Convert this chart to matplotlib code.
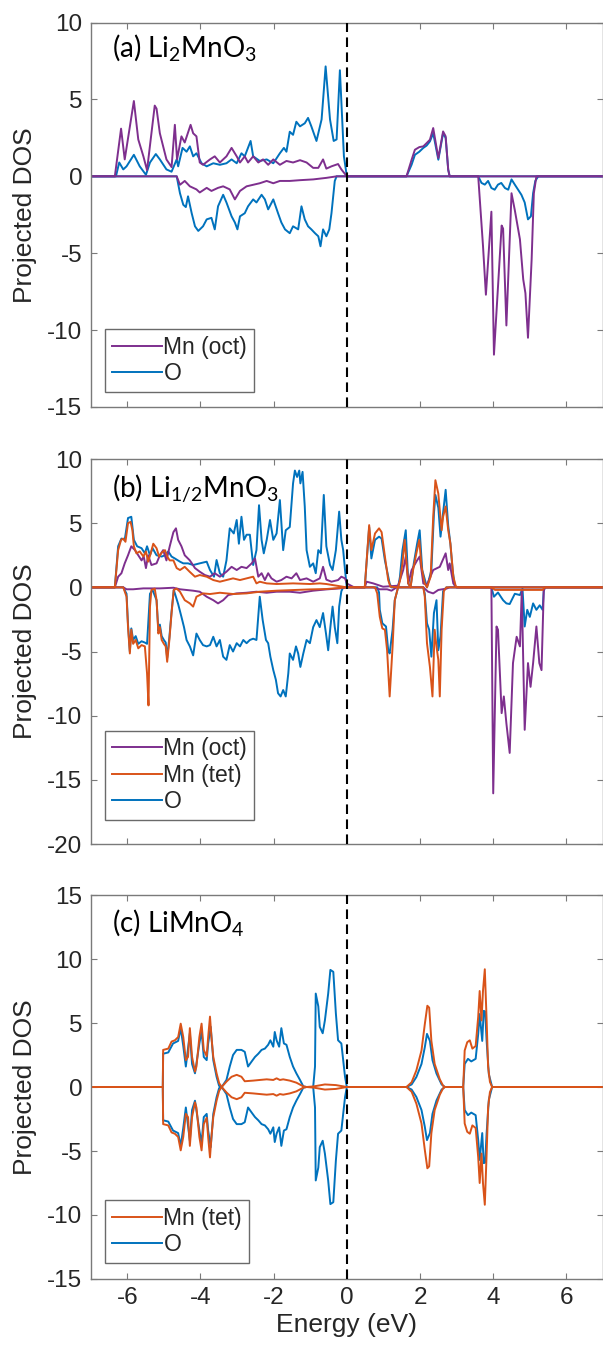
import numpy as np
import matplotlib
matplotlib.use("Agg")
import matplotlib.pyplot as plt
from matplotlib.lines import Line2D

# Projected density of states, (energy in eV, states/eV) pairs.
# Positive values: majority spin, negative values: minority spin.

# ---- (a) Li2MnO3 ----
A_MN_OCT_UP = [(-7.0, 0.0), (-6.34, 0.0), (-6.17, 3.1), (-6.07, 1.1), (-5.82, 4.9), (-5.70, 2.4), (-5.56, 1.3),
               (-5.46, 0.4), (-5.38, 2.0), (-5.25, 4.6), (-5.20, 4.4), (-5.11, 2.8), (-4.93, 1.1), (-4.79, 0.6),
               (-4.70, 3.35), (-4.64, 1.1), (-4.52, 2.6), (-4.43, 2.2), (-4.27, 3.35), (-4.20, 2.8), (-4.11, 2.6),
               (-4.02, 0.9), (-3.93, 0.75), (-3.74, 1.1), (-3.61, 1.3), (-3.47, 0.9), (-3.29, 1.3), (-3.15, 1.85),
               (-3.01, 1.3), (-2.92, 0.9), (-2.79, 1.3), (-2.70, 0.9), (-2.56, 1.3), (-2.42, 0.9), (-2.29, 1.1),
               (-2.15, 0.75), (-2.01, 1.1), (-1.83, 0.75), (-1.65, 1.0), (-1.47, 0.9), (-1.28, 1.05), (-1.10, 0.9),
               (-0.92, 0.55), (-0.78, 0.55), (-0.65, 1.1), (-0.56, 0.5), (-0.42, 0.65), (-0.24, 0.8), (-0.15, 0.45),
               (0.0, 0.0), (1.63, 0.0), (1.77, 1.08), (1.86, 1.73), (1.98, 1.9), (2.09, 1.95), (2.18, 2.16),
               (2.27, 2.38), (2.36, 3.14), (2.50, 1.19), (2.63, 2.92), (2.70, 2.6), (2.77, 0.43), (2.81, 0.0),
               (7.0, 0.0)]
A_MN_OCT_DN = [(-7.0, 0.0), (-4.65, 0.0), (-4.56, -0.55), (-4.43, -0.3), (-4.29, -0.65), (-4.11, -0.85),
               (-4.02, -1.05), (-3.83, -0.75), (-3.70, -0.95), (-3.52, -0.75), (-3.38, -0.65), (-3.20, -0.85),
               (-3.06, -1.5), (-2.92, -0.95), (-2.74, -0.65), (-2.56, -0.55), (-2.38, -0.45), (-2.19, -0.3),
               (-2.01, -0.45), (-1.83, -0.3), (-1.56, -0.3), (-1.28, -0.25), (-0.92, -0.2), (-0.56, -0.1),
               (-0.28, 0.0), (3.59, 0.0), (3.72, -4.5), (3.80, -7.7), (3.95, -2.3), (4.02, -11.6), (4.23, -3.2),
               (4.27, -3.4), (4.36, -9.7), (4.50, -1.1), (4.59, -2.2), (4.73, -4.1), (4.82, -6.7), (4.88, -7.6),
               (4.95, -10.5), (5.05, -5.4), (5.11, -1.1), (5.18, 0.0), (7.0, 0.0)]
A_O_UP = [(-7.0, 0.0), (-6.31, 0.0), (-6.22, 0.9), (-6.11, 0.45), (-6.02, 0.65), (-5.82, 1.4), (-5.66, 0.65),
          (-5.49, 0.1), (-5.38, 0.9), (-5.22, 1.45), (-5.11, 1.1), (-4.93, 0.45), (-4.79, 0.3), (-4.65, 1.1),
          (-4.61, 0.65), (-4.49, 1.85), (-4.38, 1.6), (-4.29, 1.95), (-4.20, 1.3), (-4.11, 1.5), (-3.97, 0.85),
          (-3.83, 0.65), (-3.65, 0.85), (-3.47, 0.75), (-3.29, 0.85), (-3.15, 1.1), (-3.01, 0.85), (-2.88, 1.5),
          (-2.79, 1.3), (-2.63, 2.3), (-2.56, 1.3), (-2.38, 1.0), (-2.19, 1.1), (-2.01, 0.85), (-1.83, 1.5),
          (-1.72, 1.85), (-1.65, 1.6), (-1.56, 2.9), (-1.47, 2.7), (-1.38, 3.55), (-1.28, 3.25), (-1.15, 3.45),
          (-1.06, 3.8), (-0.97, 3.25), (-0.83, 2.3), (-0.69, 3.7), (-0.58, 7.15), (-0.46, 3.7), (-0.36, 2.3),
          (-0.28, 2.4), (-0.19, 6.9), (-0.08, 1.3), (0.0, 0.0), (1.63, 0.0), (1.77, 0.76), (1.86, 1.4),
          (1.98, 1.6), (2.09, 1.85), (2.18, 2.0), (2.27, 2.27), (2.36, 2.8), (2.50, 1.08), (2.63, 2.8),
          (2.70, 2.5), (2.77, 0.43), (2.81, 0.0), (7.0, 0.0)]
A_O_DN = [(-7.0, 0.0), (-4.65, 0.0), (-4.56, -1.1), (-4.47, -1.85), (-4.40, -2.0), (-4.34, -1.3), (-4.24, -2.4),
          (-4.15, -3.25), (-4.06, -3.55), (-3.93, -3.25), (-3.83, -2.8), (-3.70, -2.7), (-3.61, -3.45),
          (-3.52, -1.95), (-3.38, -1.2), (-3.29, -1.7), (-3.15, -2.6), (-3.06, -3.0), (-2.99, -3.45),
          (-2.92, -2.6), (-2.79, -2.4), (-2.70, -1.95), (-2.56, -1.5), (-2.47, -1.7), (-2.33, -1.2),
          (-2.24, -1.5), (-2.15, -2.15), (-2.01, -1.5), (-1.88, -2.4), (-1.79, -3.0), (-1.69, -3.45),
          (-1.56, -3.7), (-1.47, -3.25), (-1.33, -3.45), (-1.24, -1.95), (-1.15, -2.8), (-1.06, -3.25),
          (-0.97, -3.45), (-0.87, -3.7), (-0.78, -3.9), (-0.72, -4.55), (-0.65, -3.45), (-0.56, -3.9),
          (-0.48, -3.45), (-0.42, -2.4), (-0.33, -0.3), (-0.28, 0.0), (3.59, 0.0), (3.68, -0.43), (3.77, -0.54),
          (3.86, -0.3), (3.95, -0.76), (4.04, -0.87), (4.13, -0.54), (4.22, -0.43), (4.32, -0.76), (4.41, -0.87),
          (4.50, -0.2), (4.59, -0.54), (4.68, -0.87), (4.77, -1.2), (4.86, -1.7), (4.95, -2.8), (5.03, -2.6),
          (5.09, -1.1), (5.15, -0.3), (5.23, 0.0), (7.0, 0.0)]

# ---- (b) Li1/2MnO3 ----
B_MN_OCT_UP = [(-7.0, 0.0), (-6.34, 0.0), (-6.25, 0.83), (-6.16, 1.1), (-6.07, 1.87), (-5.98, 2.5), (-5.89, 3.2),
               (-5.79, 2.9), (-5.70, 2.5), (-5.61, 2.1), (-5.55, 2.4), (-5.49, 1.5), (-5.43, 2.5), (-5.34, 1.74),
               (-5.20, 1.87), (-5.11, 2.5), (-5.02, 2.9), (-4.93, 2.1), (-4.84, 3.2), (-4.74, 4.3), (-4.67, 4.6),
               (-4.61, 3.7), (-4.52, 3.2), (-4.43, 2.5), (-4.29, 2.1), (-4.15, 1.5), (-4.02, 1.22), (-3.88, 0.96),
               (-3.74, 0.83), (-3.61, 1.1), (-3.47, 0.83), (-3.29, 1.22), (-3.15, 1.6), (-3.01, 1.35), (-2.88, 1.6),
               (-2.74, 1.5), (-2.60, 1.87), (-2.51, 2.25), (-2.42, 0.83), (-2.33, 1.1), (-2.24, 0.57), (-2.15, 1.1),
               (-2.06, 0.7), (-1.92, 0.44), (-1.79, 0.57), (-1.65, 0.83), (-1.51, 0.7), (-1.38, 1.1), (-1.28, 0.57),
               (-1.10, 0.7), (-0.92, 0.44), (-0.74, 0.7), (-0.65, 1.6), (-0.56, 0.6), (-0.42, 0.44), (-0.24, 0.57),
               (-0.15, 0.83), (-0.05, 0.7), (0.0, 0.3), (0.2, 0.0), (0.49, 0.0), (0.54, 0.44), (0.72, 0.31),
               (0.99, 0.05), (1.40, 0.13), (1.54, 1.35), (1.61, 2.4), (1.68, 0.3), (1.77, 1.35), (1.92, 2.1),
               (1.99, 2.4), (2.09, 0.3), (2.19, 0.2), (2.36, 1.35), (2.54, 1.6), (2.70, 2.65), (2.77, 1.35),
               (2.81, 1.87), (2.91, 0.3), (3.0, 0.0), (7.0, 0.0)]
B_MN_OCT_DN = [(-7.0, 0.0), (-6.11, 0.0), (-6.02, -0.15), (-5.84, -0.15), (-5.56, -0.08), (-5.11, -0.08),
               (-4.74, -0.03), (-4.56, -0.15), (-4.20, -0.26), (-4.02, -0.34), (-3.83, -0.73), (-3.65, -1.0),
               (-3.52, -1.25), (-3.38, -1.0), (-3.24, -0.6), (-3.01, -0.47), (-2.74, -0.42), (-2.47, -0.34),
               (-2.19, -0.42), (-1.92, -0.34), (-1.56, -0.34), (-1.28, -0.42), (-0.92, -0.26), (-0.56, -0.16),
               (-0.19, -0.08), (0.0, 0.0), (0.72, 0.0), (0.90, -0.15), (1.10, -0.15), (1.22, -0.26), (1.36, 0.0),
               (2.09, 0.0), (2.22, -0.34), (2.36, -0.47), (2.50, -0.2), (2.72, -0.1), (2.81, 0.0), (3.95, 0.0),
               (4.00, -16.05), (4.09, -3.05), (4.13, -3.3), (4.23, -9.8), (4.29, -8.5), (4.36, -10.6),
               (4.45, -12.9), (4.54, -5.9), (4.64, -3.85), (4.73, -4.6), (4.78, -0.3), (4.86, -11.1),
               (4.95, -5.9), (5.02, -7.75), (5.09, -5.9), (5.18, -3.05), (5.26, -5.9), (5.32, -6.45),
               (5.38, -0.3), (5.41, 0.0), (7.0, 0.0)]
B_MN_TET_UP = [(-7.0, 0.0), (-6.34, 0.0), (-6.25, 2.9), (-6.17, 3.7), (-6.11, 3.8), (-6.05, 3.55), (-5.98, 5.0),
               (-5.91, 5.1), (-5.86, 4.45), (-5.82, 3.2), (-5.75, 2.65), (-5.66, 2.8), (-5.56, 2.4), (-5.49, 2.8),
               (-5.43, 2.0), (-5.36, 2.65), (-5.29, 3.4), (-5.20, 3.05), (-5.13, 2.4), (-5.06, 2.7), (-4.97, 2.9),
               (-4.91, 2.4), (-4.84, 2.1), (-4.74, 2.1), (-4.65, 1.5), (-4.56, 1.35), (-4.43, 1.6), (-4.29, 1.2),
               (-4.15, 0.83), (-4.02, 0.96), (-3.83, 0.83), (-3.65, 0.57), (-3.47, 0.44), (-3.29, 0.57),
               (-3.11, 0.7), (-2.92, 0.57), (-2.74, 0.7), (-2.56, 0.83), (-2.47, 0.31), (-2.38, 0.44),
               (-2.19, 0.31), (-1.92, 0.26), (-1.47, 0.31), (-1.01, 0.26), (-0.74, 0.31), (-0.56, 0.26),
               (-0.28, 0.13), (0.0, 0.0), (0.49, 0.0), (0.61, 4.85), (0.67, 2.9), (0.77, 4.2), (0.88, 4.6),
               (0.95, 4.3), (1.04, 2.4), (1.13, 0.57), (1.19, 0.05), (1.40, 0.0), (1.45, 0.5), (1.52, 1.87),
               (1.58, 3.7), (1.68, 0.3), (1.74, 0.0), (1.81, 1.35), (1.90, 2.65), (1.98, 3.7), (2.04, 1.6),
               (2.13, 0.3), (2.19, 0.0), (2.29, 0.83), (2.36, 5.5), (2.42, 8.35), (2.50, 7.3), (2.54, 6.0),
               (2.59, 4.45), (2.63, 5.5), (2.70, 6.3), (2.77, 4.45), (2.83, 3.4), (2.91, 0.83), (2.98, 0.05),
               (3.04, 0.0), (7.0, 0.0)]
B_MN_TET_DN = [(-7.0, 0.0), (-6.11, 0.0), (-6.02, -0.73), (-5.98, -3.1), (-5.93, -5.15), (-5.89, -3.3),
               (-5.84, -4.4), (-5.77, -4.1), (-5.70, -4.75), (-5.61, -4.5), (-5.52, -4.6), (-5.46, -6.7),
               (-5.42, -9.2), (-5.38, -1.5), (-5.34, -0.2), (-5.25, -0.1), (-5.20, -1.0), (-5.15, -3.6),
               (-5.11, -3.1), (-5.06, -4.1), (-5.00, -4.4), (-4.95, -4.6), (-4.91, -5.8), (-4.85, -4.1),
               (-4.79, -2.0), (-4.73, -0.2), (-4.65, -0.1), (-4.56, -0.34), (-4.43, -1.0), (-4.29, -1.25),
               (-4.20, -1.5), (-4.11, -0.73), (-3.93, -0.47), (-3.74, -0.52), (-3.47, -0.42), (-3.11, -0.52),
               (-2.74, -0.47), (-2.38, -0.34), (-1.92, -0.26), (-1.47, -0.21), (-1.01, -0.16), (-0.56, -0.13),
               (0.0, 0.0), (0.77, 0.0), (0.83, -0.47), (0.90, -2.3), (0.97, -3.2), (1.04, -3.3), (1.10, -4.9),
               (1.17, -8.5), (1.25, -4.6), (1.31, -1.0), (1.40, 0.0), (2.09, 0.0), (2.13, -0.73), (2.19, -4.35),
               (2.27, -6.2), (2.34, -8.5), (2.40, -3.3), (2.45, -4.6), (2.50, -5.65), (2.54, -8.5), (2.59, -3.3),
               (2.65, -0.3), (2.72, 0.0), (3.95, 0.0), (4.05, -0.2), (5.35, -0.2), (5.41, 0.0), (7.0, 0.0)]
B_O_UP = [(-7.0, 0.0), (-6.34, 0.0), (-6.25, 3.2), (-6.16, 3.8), (-6.07, 3.7), (-5.98, 5.4), (-5.89, 5.5),
          (-5.82, 3.7), (-5.73, 3.2), (-5.61, 3.05), (-5.52, 2.65), (-5.46, 3.2), (-5.38, 2.5), (-5.31, 3.05),
          (-5.20, 2.5), (-5.06, 2.4), (-4.97, 2.5), (-4.88, 2.8), (-4.79, 2.4), (-4.70, 2.25), (-4.56, 2.0),
          (-4.47, 1.87), (-4.34, 1.87), (-4.20, 1.74), (-4.02, 1.87), (-3.83, 2.0), (-3.74, 1.35), (-3.63, 0.83),
          (-3.56, 2.13), (-3.47, 1.1), (-3.38, 0.83), (-3.29, 2.1), (-3.20, 4.6), (-3.09, 4.2), (-3.01, 5.25),
          (-2.95, 3.4), (-2.88, 5.5), (-2.81, 3.7), (-2.74, 4.1), (-2.65, 4.1), (-2.56, 1.74), (-2.47, 2.9),
          (-2.40, 6.4), (-2.33, 3.7), (-2.27, 2.65), (-2.19, 3.7), (-2.10, 5.25), (-2.01, 3.7), (-1.92, 4.2),
          (-1.83, 6.8), (-1.74, 2.9), (-1.67, 4.45), (-1.56, 4.7), (-1.47, 8.1), (-1.42, 9.1), (-1.36, 8.6),
          (-1.30, 9.1), (-1.27, 8.1), (-1.21, 9.0), (-1.15, 6.3), (-1.10, 2.9), (-1.01, 1.6), (-0.92, 1.87),
          (-0.85, 1.1), (-0.78, 2.9), (-0.71, 2.65), (-0.63, 7.2), (-0.56, 3.2), (-0.46, 1.74), (-0.39, 1.35),
          (-0.30, 2.9), (-0.21, 5.9), (-0.15, 3.7), (-0.10, 2.9), (-0.05, 1.35), (0.0, 0.0), (0.49, 0.0),
          (0.61, 4.7), (0.67, 2.25), (0.77, 3.7), (0.88, 3.95), (0.95, 3.8), (1.04, 2.1), (1.17, 0.3),
          (1.22, 0.0), (1.40, 0.0), (1.45, 0.8), (1.52, 2.9), (1.61, 4.45), (1.68, 0.3), (1.74, 0.0),
          (1.83, 1.87), (1.92, 3.4), (1.99, 4.45), (2.06, 1.35), (2.19, 0.0), (2.31, 1.35), (2.38, 5.75),
          (2.42, 7.2), (2.50, 6.2), (2.56, 3.95), (2.63, 5.8), (2.70, 7.6), (2.77, 4.8), (2.83, 3.4),
          (2.89, 1.35), (2.95, 0.1), (3.0, 0.0), (7.0, 0.0)]
B_O_DN = [(-7.0, 0.0), (-6.11, 0.0), (-6.02, -0.5), (-5.98, -2.9), (-5.93, -5.0), (-5.89, -3.2), (-5.84, -4.1),
          (-5.77, -3.8), (-5.70, -4.4), (-5.61, -4.2), (-5.52, -4.3), (-5.46, -4.4), (-5.38, -0.5), (-5.31, -0.2),
          (-5.20, -1.0), (-5.15, -3.4), (-5.11, -2.9), (-5.06, -3.8), (-5.00, -4.1), (-4.95, -4.3),
          (-4.91, -5.5), (-4.85, -3.9), (-4.79, -1.9), (-4.73, -0.2), (-4.70, -0.47), (-4.61, -1.3),
          (-4.52, -2.3), (-4.45, -3.1), (-4.38, -4.1), (-4.29, -4.6), (-4.20, -5.3), (-4.11, -3.6),
          (-4.02, -4.1), (-3.93, -4.5), (-3.83, -4.6), (-3.74, -4.5), (-3.65, -3.85), (-3.56, -4.6),
          (-3.47, -4.1), (-3.38, -5.4), (-3.29, -5.65), (-3.20, -4.5), (-3.11, -5.0), (-3.01, -4.35),
          (-2.92, -4.6), (-2.83, -4.1), (-2.74, -4.35), (-2.65, -4.1), (-2.56, -4.0), (-2.47, -4.1),
          (-2.38, -0.73), (-2.30, -2.55), (-2.21, -4.1), (-2.15, -4.35), (-2.09, -5.4), (-2.01, -6.45),
          (-1.94, -7.2), (-1.88, -8.25), (-1.81, -8.5), (-1.74, -8.0), (-1.67, -8.5), (-1.60, -6.7),
          (-1.56, -5.15), (-1.47, -5.65), (-1.39, -4.6), (-1.33, -5.15), (-1.27, -6.2), (-1.19, -5.15),
          (-1.10, -4.1), (-1.01, -4.35), (-0.92, -3.1), (-0.83, -2.55), (-0.74, -3.1), (-0.65, -2.0),
          (-0.57, -3.6), (-0.51, -4.9), (-0.45, -3.1), (-0.39, -1.5), (-0.33, -3.1), (-0.26, -4.35),
          (-0.21, -1.5), (-0.15, -0.3), (-0.10, 0.0), (0.83, 0.0), (0.88, -0.4), (0.90, -1.75), (0.97, -2.8),
          (1.07, -3.05), (1.13, -4.9), (1.17, -5.15), (1.25, -3.3), (1.31, -1.0), (1.40, 0.0), (2.09, 0.0),
          (2.13, -0.5), (2.19, -2.8), (2.25, -3.3), (2.31, -5.4), (2.38, -2.0), (2.45, -1.0), (2.50, -4.9),
          (2.56, -3.8), (2.63, -0.3), (2.72, 0.0), (3.95, 0.0), (4.02, -0.73), (4.13, -0.4), (4.27, -1.0),
          (4.36, -1.25), (4.45, -1.3), (4.59, -0.5), (4.73, -0.6), (4.80, -0.1), (4.86, -3.05), (4.93, -1.75),
          (5.00, -2.3), (5.09, -1.25), (5.18, -1.75), (5.27, -1.4), (5.35, -1.75), (5.38, -0.3), (5.41, 0.0),
          (7.0, 0.0)]

# ---- (c) LiMnO4 (non-magnetic: minority channel mirrors the majority one) ----
C_MN_TET = [(-7.0, 0.0), (-5.03, 0.0), (-5.02, 2.9), (-4.88, 3.0), (-4.79, 3.55), (-4.70, 3.65), (-4.61, 3.9),
            (-4.54, 4.95), (-4.47, 3.9), (-4.40, 2.1), (-4.34, 2.35), (-4.29, 4.6), (-4.23, 2.35), (-4.15, 1.2),
            (-4.11, 1.6), (-4.03, 3.9), (-3.97, 4.95), (-3.91, 2.9), (-3.83, 2.4), (-3.79, 3.9), (-3.74, 5.5),
            (-3.70, 3.9), (-3.65, 2.35), (-3.56, 1.07), (-3.49, 0.3), (-3.42, 0.0), (-3.29, 0.42), (-3.15, 0.8),
            (-3.01, 0.95), (-2.88, 0.8), (-2.79, 0.45), (-2.56, 0.5), (-2.38, 0.55), (-2.19, 0.6), (-2.01, 0.55),
            (-1.92, 0.68), (-1.83, 0.55), (-1.74, 0.6), (-1.56, 0.5), (-1.38, 0.34), (-1.19, 0.05), (-1.10, 0.0),
            (-0.9, 0.05), (-0.6, 0.2), (-0.3, 0.15), (-0.1, 0.05), (0.0, 0.0), (1.63, 0.0), (1.77, 0.37),
            (1.90, 1.3), (2.04, 2.85), (2.13, 4.9), (2.20, 6.35), (2.25, 6.2), (2.31, 3.6), (2.40, 1.8),
            (2.54, 0.6), (2.63, 0.1), (2.68, 0.0), (3.18, 0.0), (3.22, 2.85), (3.29, 3.5), (3.36, 3.65),
            (3.43, 3.0), (3.52, 3.2), (3.59, 5.5), (3.63, 7.5), (3.68, 5.2), (3.72, 7.5), (3.77, 9.2),
            (3.82, 5.2), (3.86, 1.6), (3.91, 0.4), (3.97, 0.0), (7.0, 0.0)]
C_O = [(-7.0, 0.0), (-5.03, 0.0), (-5.02, 2.6), (-4.88, 2.7), (-4.75, 3.4), (-4.61, 3.6), (-4.54, 4.6),
       (-4.47, 3.2), (-4.40, 1.6), (-4.29, 4.2), (-4.23, 1.8), (-4.15, 1.07), (-4.03, 3.4), (-3.97, 4.4),
       (-3.91, 2.35), (-3.83, 2.1), (-3.79, 3.4), (-3.72, 4.7), (-3.65, 2.1), (-3.56, 0.8), (-3.49, 0.08),
       (-3.42, 0.0), (-3.29, 0.55), (-3.20, 1.6), (-3.11, 2.5), (-3.01, 2.9), (-2.88, 2.9), (-2.79, 2.75),
       (-2.70, 1.6), (-2.60, 2.0), (-2.51, 2.35), (-2.42, 2.6), (-2.33, 2.9), (-2.24, 3.0), (-2.15, 3.3),
       (-2.09, 3.65), (-2.01, 3.15), (-1.97, 4.3), (-1.92, 3.65), (-1.85, 3.15), (-1.79, 4.6), (-1.72, 3.4),
       (-1.65, 3.3), (-1.56, 2.35), (-1.47, 1.6), (-1.38, 1.07), (-1.28, 0.55), (-1.19, 0.05), (-1.10, 0.0),
       (-0.92, 0.0), (-0.87, 1.6), (-0.85, 7.3), (-0.78, 6.3), (-0.74, 4.7), (-0.66, 4.2), (-0.60, 5.2),
       (-0.51, 7.3), (-0.45, 9.15), (-0.37, 9.0), (-0.30, 5.75), (-0.24, 3.65), (-0.15, 3.4), (-0.10, 2.1),
       (-0.05, 0.8), (0.0, 0.0), (1.63, 0.0), (1.77, 0.2), (1.90, 0.78), (2.04, 1.8), (2.13, 3.1),
       (2.19, 4.15), (2.27, 3.6), (2.34, 2.1), (2.45, 1.05), (2.59, 0.2), (2.68, 0.0), (3.18, 0.0),
       (3.22, 1.8), (3.31, 2.2), (3.40, 2.0), (3.52, 2.2), (3.59, 4.15), (3.63, 5.7), (3.70, 3.6),
       (3.74, 5.95), (3.78, 5.9), (3.82, 3.6), (3.88, 1.0), (3.97, 0.0), (7.0, 0.0)]

PANEL_TITLES = [r'(a) Li$_{\mathregular{2}}$MnO$_{\mathregular{3}}$',
                r'(b) Li$_{\mathregular{1/2}}$MnO$_{\mathregular{3}}$',
                r'(c) LiMnO$_{\mathregular{4}}$']
Y_LIMITS = [(-15, 10), (-20, 10), (-15, 15)]
X_TICKS = [-6, -4, -2, 0, 2, 4, 6]

COLOR_MN_OCT = '#7E2F8E'
COLOR_MN_TET = '#D95319'
COLOR_O = '#0072BD'
AXIS_GRAY = '#7a7a7a'
TEXT_DARK = '#262626'

plt.rcParams['font.family'] = ['Liberation Sans', 'DejaVu Sans']
plt.rcParams['axes.unicode_minus'] = False

fig = plt.figure(figsize=(6.03, 13.52), dpi=100)
LEFT = 0.1504
WIDTH = 1.0 - LEFT
axes_boxes = [(LEFT, 0.6990, WIDTH, 0.2843),
              (LEFT, 0.3757, WIDTH, 0.2848),
              (LEFT, 0.0540, WIDTH, 0.2840)]
axs = [fig.add_axes(b) for b in axes_boxes]

LW = 1.4


def trace(ax, pairs, color, sign=1.0):
    e = np.array([p[0] for p in pairs])
    d = np.array([p[1] for p in pairs]) * sign
    ax.plot(e, d, color=color, lw=LW, solid_joinstyle='round')


# (a)
trace(axs[0], A_O_UP, COLOR_O)
trace(axs[0], A_O_DN, COLOR_O)
trace(axs[0], A_MN_OCT_UP, COLOR_MN_OCT)
trace(axs[0], A_MN_OCT_DN, COLOR_MN_OCT)
legend_a = [('Mn (oct)', COLOR_MN_OCT), ('O', COLOR_O)]

# (b)
trace(axs[1], B_O_UP, COLOR_O)
trace(axs[1], B_O_DN, COLOR_O)
trace(axs[1], B_MN_OCT_UP, COLOR_MN_OCT)
trace(axs[1], B_MN_OCT_DN, COLOR_MN_OCT)
trace(axs[1], B_MN_TET_UP, COLOR_MN_TET)
trace(axs[1], B_MN_TET_DN, COLOR_MN_TET)
legend_b = [('Mn (oct)', COLOR_MN_OCT), ('Mn (tet)', COLOR_MN_TET), ('O', COLOR_O)]

# (c)
trace(axs[2], C_O, COLOR_O, 1.0)
trace(axs[2], C_O, COLOR_O, -1.0)
trace(axs[2], C_MN_TET, COLOR_MN_TET, 1.0)
trace(axs[2], C_MN_TET, COLOR_MN_TET, -1.0)
legend_c = [('Mn (tet)', COLOR_MN_TET), ('O', COLOR_O)]

legends = [legend_a, legend_b, legend_c]
legend_y = [0.039, 0.062, 0.042]
title_y = [0.911, 0.902, 0.904]

for i, ax in enumerate(axs):
    ylo, yhi = Y_LIMITS[i]
    ax.set_xlim(-7, 7)
    ax.set_ylim(ylo, yhi)
    ax.set_xticks(X_TICKS)
    ax.set_yticks(np.arange(ylo, yhi + 1, 5))
    ax.axvline(0, color='black', lw=1.5, dashes=(4.6, 2.6), zorder=5)
    for s in ax.spines.values():
        s.set_color(AXIS_GRAY)
        s.set_linewidth(1.0)
    ax.tick_params(direction='in', length=4.0, width=0.8, color=AXIS_GRAY,
                   top=True, right=True, labelsize=17.5, labelcolor=TEXT_DARK, pad=6)
    if i < 2:
        ax.tick_params(labelbottom=False)
    ax.set_ylabel('Projected DOS', fontsize=19, color=TEXT_DARK)
    ax.yaxis.set_label_coords(-0.105, 0.5)
    ax.text(0.042, title_y[i], PANEL_TITLES[i], transform=ax.transAxes,
            fontsize=20, family='Lato', color='black', va='baseline', ha='left')
    handles = [Line2D([], [], color=c, lw=LW) for _, c in legends[i]]
    labels = [l for l, _ in legends[i]]
    leg = ax.legend(handles, labels, loc='lower left', bbox_to_anchor=(0.028, legend_y[i]),
                    borderaxespad=0.0, fontsize=16.5, handlelength=2.2, handletextpad=0.05,
                    borderpad=0.3, labelspacing=0.15, fancybox=False, framealpha=1.0)
    leg.get_frame().set_edgecolor('#6a6a6a')
    leg.get_frame().set_linewidth(1.0)
    for t in leg.get_texts():
        t.set_color(TEXT_DARK)

axs[2].set_xlabel('Energy (eV)', fontsize=19, color=TEXT_DARK, labelpad=3)

fig.savefig('out.png', dpi=100)
